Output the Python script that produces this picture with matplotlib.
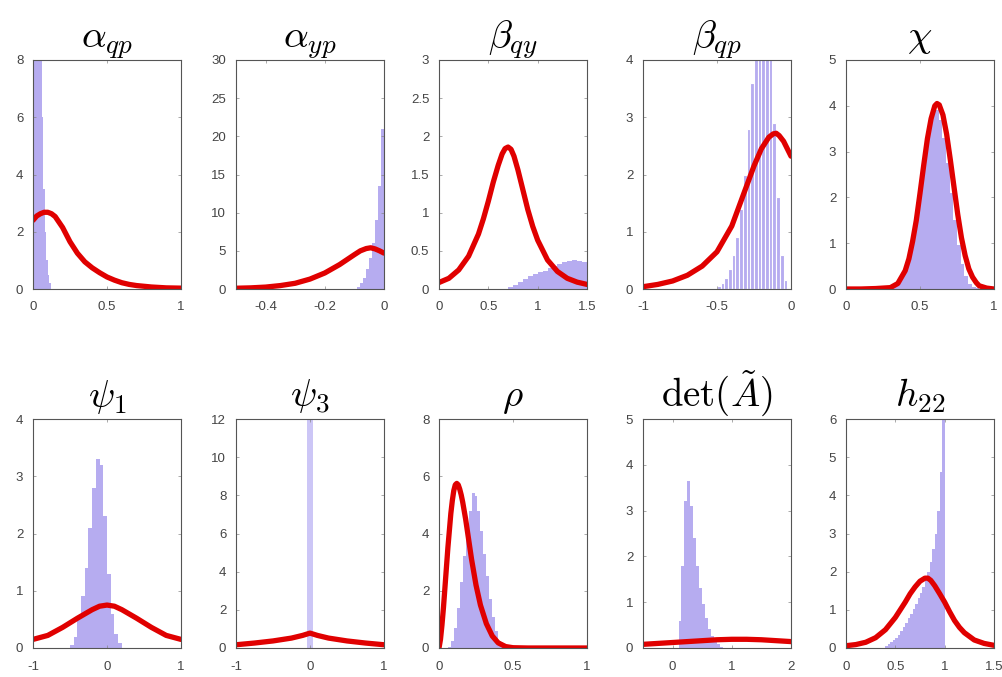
import numpy as np
import matplotlib
matplotlib.use("Agg")
import matplotlib.pyplot as plt

plt.rcParams["mathtext.fontset"] = "cm"
plt.rcParams["font.family"] = ["Liberation Sans", "DejaVu Sans"]
plt.rcParams["axes.unicode_minus"] = False

# ---------------------------------------------------------------------------
# Data: posterior histograms (bars) and prior curves (red)
# ---------------------------------------------------------------------------

# alpha_qp
aqp_start, aqp_bw = 0.0, 0.01
aqp_hist = [40, 30, 22, 16, 11, 8.5, 6, 3.5, 2.0, 1.0, 0.5, 0.2]
aqp_x = [0, 0.025, 0.05, 0.075, 0.1, 0.125, 0.15, 0.2, 0.25, 0.3, 0.35, 0.4,
         0.45, 0.5, 0.55, 0.6, 0.65, 0.7, 0.8, 0.9, 1.0]
aqp_y = [2.4, 2.55, 2.63, 2.68, 2.68, 2.63, 2.53, 2.15, 1.65, 1.25, 0.95,
         0.74, 0.57, 0.42, 0.31, 0.22, 0.16, 0.12, 0.07, 0.04, 0.03]

# alpha_yp
ayp_start, ayp_bw = -0.09, 0.01
ayp_hist = [0.3, 0.8, 1.5, 2.6, 4.0, 6.0, 9.0, 13.5, 21.0]
ayp_x = [-0.5, -0.45, -0.4, -0.35, -0.3, -0.25, -0.2, -0.15, -0.1, -0.08,
         -0.06, -0.045, -0.03, -0.015, 0.0]
ayp_y = [0.1, 0.15, 0.25, 0.45, 0.75, 1.3, 2.1, 3.2, 4.5, 5.0, 5.3, 5.4,
         5.25, 5.0, 4.7]

# beta_qy
bqy_start, bqy_bw = 0.7, 0.05
bqy_hist = [0.02, 0.05, 0.09, 0.13, 0.17, 0.2, 0.22, 0.24, 0.27, 0.3, 0.33,
            0.36, 0.37, 0.38, 0.37, 0.36]
bqy_x = [0, 0.1, 0.2, 0.3, 0.4, 0.45, 0.5, 0.55, 0.6, 0.64, 0.67, 0.7, 0.73,
         0.76, 0.8, 0.85, 0.9, 0.95, 1.0, 1.1, 1.2, 1.3, 1.4, 1.5]
bqy_y = [0.085, 0.14, 0.25, 0.43, 0.72, 0.92, 1.15, 1.4, 1.62, 1.77, 1.84,
         1.86, 1.83, 1.74, 1.56, 1.3, 1.04, 0.82, 0.64, 0.38, 0.23, 0.14,
         0.09, 0.06]

# beta_qp
bqp_start, bqp_bw = -0.5, 0.025
bqp_hist = [0.05, 0.1, 0.2, 0.35, 0.6, 0.9, 1.4, 2.0, 2.8, 3.6, 4.6, 5.5,
            5.8, 5.5, 4.6, 2.9, 1.6, 0.6, 0.15]
bqp_x = [-1.0, -0.9, -0.8, -0.7, -0.6, -0.5, -0.4, -0.35, -0.3, -0.25, -0.2,
         -0.15, -0.12, -0.1, -0.08, -0.05, -0.025, 0.0]
bqp_y = [0.04, 0.08, 0.14, 0.24, 0.4, 0.65, 1.1, 1.45, 1.8, 2.15, 2.45,
         2.65, 2.71, 2.72, 2.68, 2.58, 2.45, 2.32]

# chi
chi_start, chi_bw = 0.3, 0.025
chi_hist = [0.02, 0.06, 0.14, 0.3, 0.55, 0.9, 1.35, 1.9, 2.5, 3.1, 3.55,
            3.85, 3.9, 3.7, 3.3, 2.75, 2.1, 1.5, 0.95, 0.55, 0.28, 0.12,
            0.05, 0.02]
chi_x = [0, 0.1, 0.2, 0.3, 0.35, 0.4, 0.425, 0.45, 0.475, 0.5, 0.525, 0.55,
         0.575, 0.6, 0.615, 0.63, 0.655, 0.68, 0.705, 0.73, 0.755, 0.78,
         0.805, 0.83, 0.855, 0.88, 0.9, 0.95, 1.0]
chi_y = [0, 0, 0.01, 0.03, 0.12, 0.4, 0.66, 1.04, 1.5, 2.09, 2.7, 3.28,
         3.72, 4.0, 4.05, 4.02, 3.8, 3.38, 2.82, 2.22, 1.63, 1.12, 0.73,
         0.44, 0.26, 0.14, 0.07, 0.02, 0.0]

# psi_1
ps1_start, ps1_bw = -0.5, 0.05
ps1_hist = [0.05, 0.2, 0.5, 0.9, 1.4, 2.1, 2.8, 3.3, 3.2, 2.3, 1.3, 0.6,
            0.25, 0.08]
ps1_x = [-1.0, -0.8, -0.6, -0.4, -0.2, -0.1, 0.0, 0.1, 0.2, 0.4, 0.6, 0.8,
         1.0]
ps1_y = [0.15, 0.22, 0.36, 0.52, 0.67, 0.73, 0.75, 0.73, 0.67, 0.52, 0.36,
         0.22, 0.15]

# psi_3
ps3_start, ps3_bw = -0.035, 0.035
ps3_hist = [25, 25]
ps3_x = [-1.0, -0.75, -0.5, -0.25, -0.1, 0.0, 0.1, 0.25, 0.5, 0.75, 1.0]
ps3_y = [0.17, 0.26, 0.37, 0.52, 0.66, 0.78, 0.66, 0.52, 0.37, 0.26, 0.17]

# rho
rho_start, rho_bw = 0.06, 0.02
rho_hist = [0.05, 0.25, 0.7, 1.4, 2.3, 3.2, 4.1, 4.8, 5.4, 5.3, 4.8, 4.1,
            3.3, 2.5, 1.7, 1.1, 0.6, 0.25, 0.08]
rho_x = [0, 0.01, 0.02, 0.03, 0.04, 0.05, 0.06, 0.07, 0.08, 0.09, 0.1, 0.11,
         0.12, 0.13, 0.14, 0.15, 0.16, 0.18, 0.2, 0.22, 0.25, 0.28, 0.32,
         0.36, 0.4, 0.45, 0.5, 0.6, 1.0]
rho_y = [0, 0.3, 0.8, 1.4, 2.1, 2.8, 3.5, 4.1, 4.7, 5.15, 5.5, 5.7, 5.75,
         5.7, 5.55, 5.35, 5.1, 4.5, 3.8, 3.1, 2.2, 1.5, 0.85, 0.42, 0.18,
         0.05, 0.01, 0, 0]

# det(A tilde)
det_start, det_bw = 0.1, 0.05
det_hist = [0.6, 1.8, 3.2, 3.65, 3.1, 2.4, 1.8, 1.3, 0.95, 0.65, 0.42,
            0.26, 0.15, 0.08, 0.03]
det_x = [-0.5, -0.25, 0.0, 0.25, 0.5, 0.75, 1.0, 1.25, 1.5, 1.75, 2.0]
det_y = [0.08, 0.1, 0.12, 0.14, 0.16, 0.18, 0.19, 0.19, 0.18, 0.16, 0.14]

# h_22
h22_start, h22_bw = 0.4, 0.025
h22_hist = [0.05, 0.1, 0.15, 0.2, 0.27, 0.35, 0.45, 0.55, 0.66, 0.78, 0.9,
            1.02, 1.15, 1.3, 1.45, 1.6, 1.8, 2.0, 2.25, 2.6, 3.0, 3.6, 4.6,
            7.0]
h22_x = [0, 0.1, 0.2, 0.3, 0.4, 0.5, 0.6, 0.65, 0.7, 0.75, 0.8, 0.83, 0.86,
         0.9, 0.95, 1.0, 1.05, 1.1, 1.15, 1.2, 1.3, 1.4, 1.5]
h22_y = [0.06, 0.09, 0.15, 0.27, 0.48, 0.8, 1.2, 1.42, 1.6, 1.75, 1.83,
         1.83, 1.77, 1.63, 1.42, 1.2, 0.95, 0.72, 0.54, 0.4, 0.21, 0.12, 0.07]

titles = [r"$\alpha_{qp}$", r"$\alpha_{yp}$", r"$\beta_{qy}$", r"$\beta_{qp}$",
          r"$\chi$", r"$\psi_1$", r"$\psi_3$", r"$\rho$",
          r"$\det(\tilde{A})$", r"$h_{22}$"]

panels = [
    (aqp_start, aqp_bw, aqp_hist, aqp_x, aqp_y, (0, 1), (0, 8), [0, 0.5, 1], [0, 2, 4, 6, 8]),
    (ayp_start, ayp_bw, ayp_hist, ayp_x, ayp_y, (-0.5, 0), (0, 30), [-0.4, -0.2, 0], [0, 5, 10, 15, 20, 25, 30]),
    (bqy_start, bqy_bw, bqy_hist, bqy_x, bqy_y, (0, 1.5), (0, 3), [0, 0.5, 1, 1.5], [0, 0.5, 1, 1.5, 2, 2.5, 3]),
    (bqp_start, bqp_bw, bqp_hist, bqp_x, bqp_y, (-1, 0), (0, 4), [-1, -0.5, 0], [0, 1, 2, 3, 4]),
    (chi_start, chi_bw, chi_hist, chi_x, chi_y, (0, 1), (0, 5), [0, 0.5, 1], [0, 1, 2, 3, 4, 5]),
    (ps1_start, ps1_bw, ps1_hist, ps1_x, ps1_y, (-1, 1), (0, 4), [-1, 0, 1], [0, 1, 2, 3, 4]),
    (ps3_start, ps3_bw, ps3_hist, ps3_x, ps3_y, (-1, 1), (0, 12), [-1, 0, 1], [0, 2, 4, 6, 8, 10, 12]),
    (rho_start, rho_bw, rho_hist, rho_x, rho_y, (0, 1), (0, 8), [0, 0.5, 1], [0, 2, 4, 6, 8]),
    (det_start, det_bw, det_hist, det_x, det_y, (-0.5, 2), (0, 5), [0, 1, 2], [0, 1, 2, 3, 4, 5]),
    (h22_start, h22_bw, h22_hist, h22_x, h22_y, (0, 1.5), (0, 6), [0, 0.5, 1, 1.5], [0, 1, 2, 3, 4, 5, 6]),
]

# ---------------------------------------------------------------------------
# Figure
# ---------------------------------------------------------------------------
W, H = 1003, 677
fig = plt.figure(figsize=(W / 100, H / 100), dpi=100)

lefts = [33, 236, 439, 643, 846]
tops = [60, 419]
aw, ah = 148, 229

purple = "#b6acf0"
red = "#e00000"

for i, (start, bw, hist, cx, cy, xl, yl, xt, yt) in enumerate(panels):
    row, col = divmod(i, 5)
    ax = fig.add_axes([lefts[col] / W, (H - tops[row] - ah) / H, aw / W, ah / H])
    hist = np.asarray(hist, dtype=float)
    edges = start + bw * np.arange(len(hist))
    if i == 3:
        # this one shows the white bin borders
        ax.bar(edges, hist, width=bw, align="edge", color=purple,
               edgecolor="white", linewidth=0.8)
    else:
        ax.bar(edges, hist, width=bw, align="edge",
               color="#ccc6f6" if i == 6 else purple, linewidth=0)
    ax.plot(cx, cy, color=red, linewidth=3.8, solid_capstyle="round",
            solid_joinstyle="round")
    ax.set_xlim(*xl)
    ax.set_ylim(*yl)
    ax.set_xticks(xt)
    ax.set_yticks(yt)
    ax.set_xticklabels(["%g" % v for v in xt])
    ax.set_yticklabels(["%g" % v for v in yt])
    ax.tick_params(direction="in", top=True, right=True, length=2.5,
                   width=0.5, color="#888888", labelsize=9.5,
                   labelcolor="#444444")
    ax.tick_params(axis="x", pad=9)
    ax.tick_params(axis="y", pad=7)
    for s in ax.spines.values():
        s.set_color("#555555")
        s.set_linewidth(0.8)
    ax.set_title(titles[i], fontsize=28, pad=9)

fig.savefig("out.png", dpi=100)
